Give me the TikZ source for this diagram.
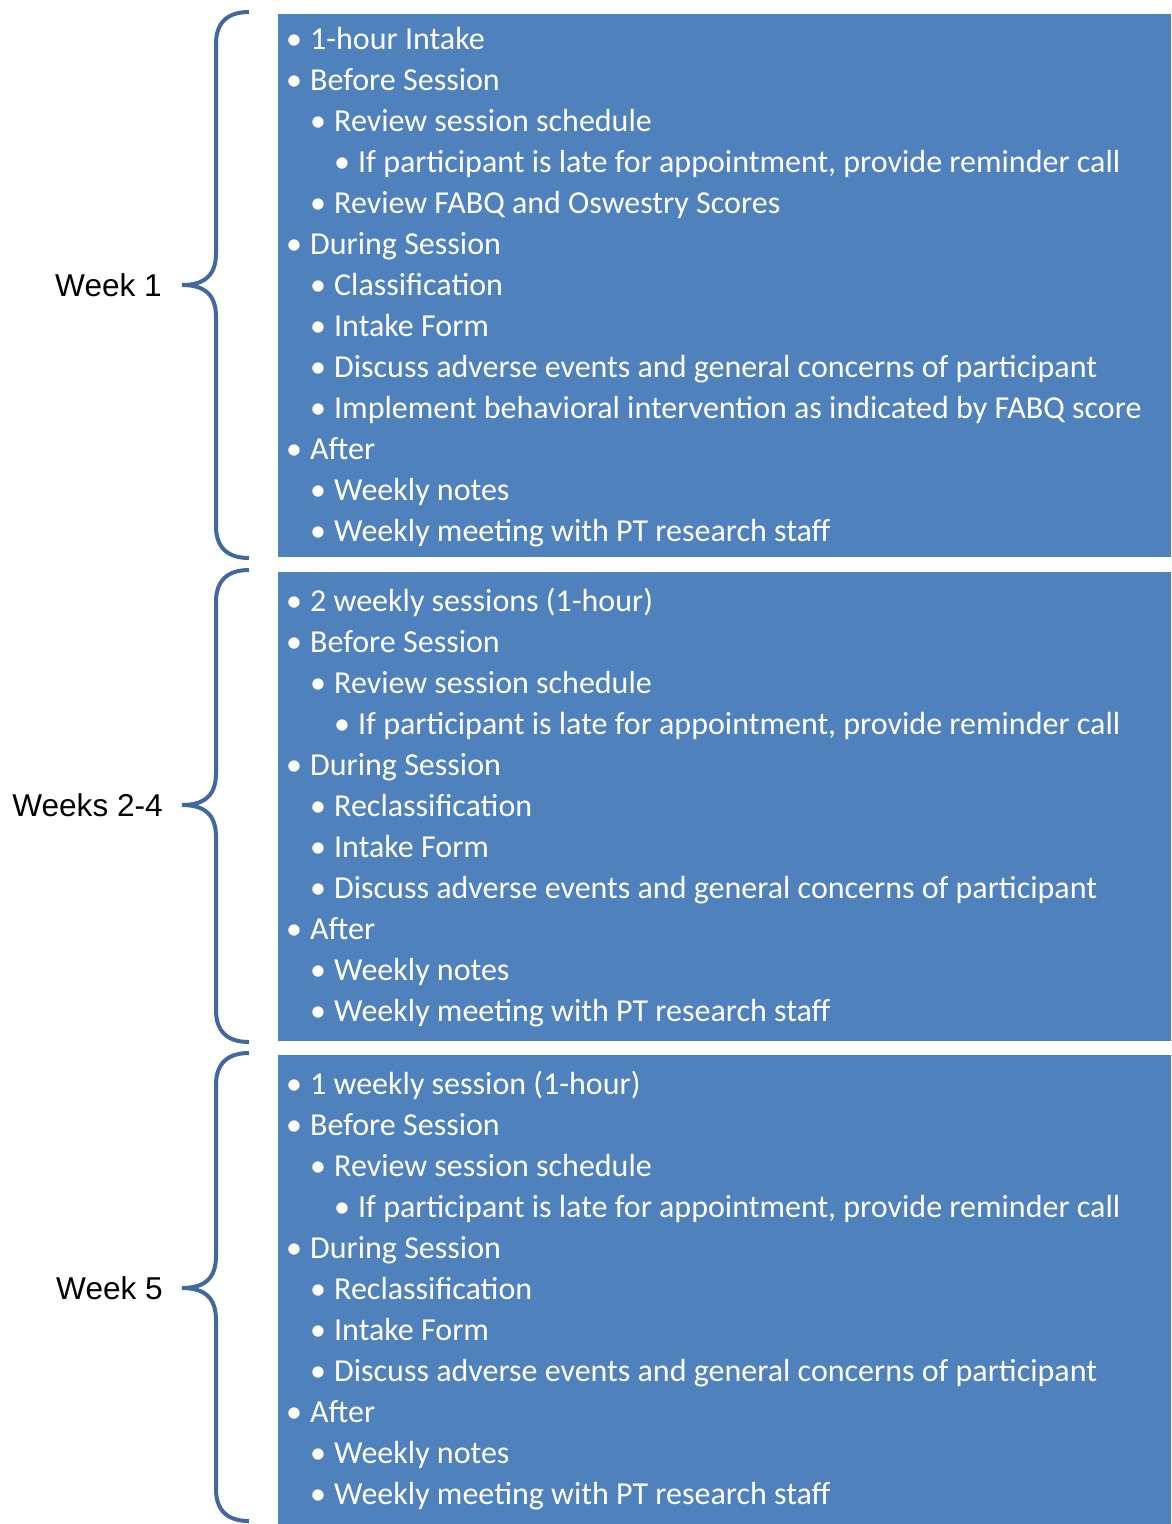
\documentclass[tikz,border=0pt]{standalone}
\usepackage{fontspec}
\setmainfont{Carlito}
\newfontfamily\labelfont{Liberation Sans}
\definecolor{boxblue}{HTML}{4F81BD}
\definecolor{bracecol}{HTML}{41699B}
\newcommand{\bul}{\makebox[24pt][l]{•}}
\tikzset{
  panel/.style={fill=boxblue, draw=none, anchor=north west, inner sep=0,
                minimum width=893pt},
  item/.style={anchor=base west, inner sep=0, text=white,
               font=\fontsize{32}{38}\selectfont},
  weeklabel/.style={anchor=east, inner sep=0,
                    font=\labelfont\fontsize{31.6}{36}\selectfont},
  brace/.style={draw=bracecol, line width=4pt}
}
\begin{document}
\begin{tikzpicture}[x=1pt, y=-1pt]
\useasboundingbox (0,0) rectangle (1171,1524);

% blue panels
\node[panel, minimum height=543pt] (p1) at (278,14) {};
\node[panel, minimum height=469pt] (p2) at (278,572) {};
\node[panel, minimum height=469pt] (p3) at (278,1055) {};

% week 1 items
\foreach \lv/\txt [count=\i] in {
  1/{1-hour Intake},
  1/{Before Session},
  2/{Review session schedule},
  3/{If participant is late for appointment, provide reminder call},
  2/{Review FABQ and Oswestry Scores},
  1/{During Session},
  2/{Classification},
  2/{Intake Form},
  2/{Discuss adverse events and general concerns of participant},
  2/{Implement behavioral intervention as indicated by FABQ score},
  1/{After},
  2/{Weekly notes},
  2/{Weekly meeting with PT research staff}}
  \node[item] (a\i) at ({286+24*(\lv-1)}, {49+41*(\i-1)}) {\bul\txt};

% weeks 2-4 items
\foreach \lv/\txt [count=\i] in {
  1/{2 weekly sessions (1-hour)},
  1/{Before Session},
  2/{Review session schedule},
  3/{If participant is late for appointment, provide reminder call},
  1/{During Session},
  2/{Reclassification},
  2/{Intake Form},
  2/{Discuss adverse events and general concerns of participant},
  1/{After},
  2/{Weekly notes},
  2/{Weekly meeting with PT research staff}}
  \node[item] (b\i) at ({286+24*(\lv-1)}, {611+41*(\i-1)}) {\bul\txt};

% week 5 items
\foreach \lv/\txt [count=\i] in {
  1/{1 weekly session (1-hour)},
  1/{Before Session},
  2/{Review session schedule},
  3/{If participant is late for appointment, provide reminder call},
  1/{During Session},
  2/{Reclassification},
  2/{Intake Form},
  2/{Discuss adverse events and general concerns of participant},
  1/{After},
  2/{Weekly notes},
  2/{Weekly meeting with PT research staff}}
  \node[item] (c\i) at ({286+24*(\lv-1)}, {1094+41*(\i-1)}) {\bul\txt};

% week labels
\node[weeklabel] (l1) at (162,285) {Week 1};
\node[weeklabel] (l2) at (163,805) {Weeks 2-4};
\node[weeklabel] (l3) at (163,1288) {Week 5};

% braces: top end, tip at the label, bottom end
\foreach \t/\m/\b in {12/285/558, 570/805/1042, 1053/1288/1521}{
  \draw[brace] (249,\t) .. controls (228,\t) and (216,\t+10) .. (216,\t+32)
    -- (216,\m-32) .. controls (216,\m-10) and (205,\m) .. (182,\m)
    .. controls (205,\m) and (216,\m+10) .. (216,\m+32)
    -- (216,\b-32) .. controls (216,\b-10) and (228,\b) .. (249,\b);
}
\end{tikzpicture}
\end{document}
